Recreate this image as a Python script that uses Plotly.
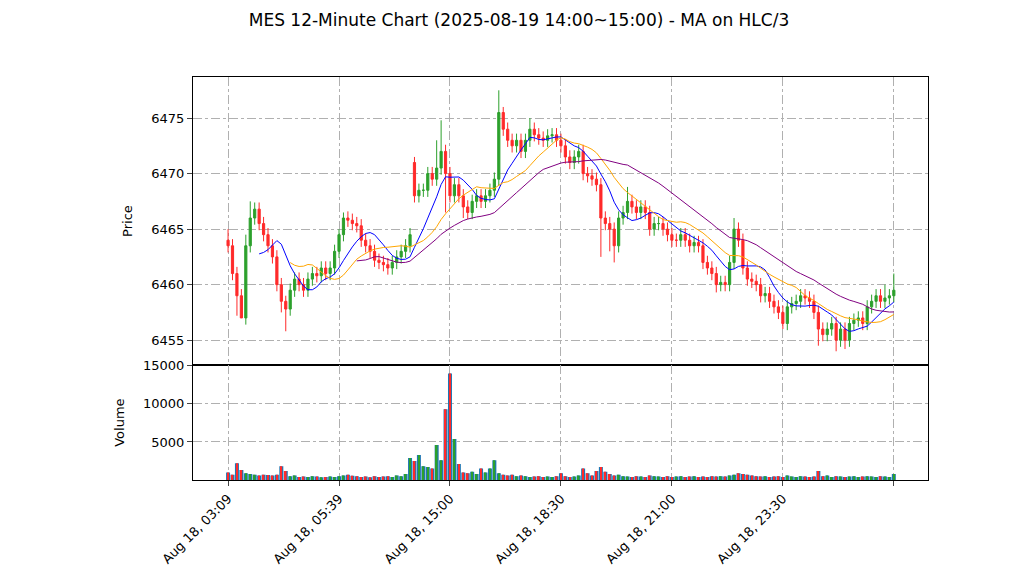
import numpy as np
import pandas as pd
import plotly.graph_objects as go

# closes per 12-min bar
closes = [6463.5, 6461, 6459, 6457, 6463.5, 6466, 6466.8, 6465.5, 6464.5, 6463.5,
          6462.5, 6460, 6458.5, 6457.8, 6459.5, 6460.5, 6460, 6459.5, 6460.5, 6461,
          6460.8, 6461.5, 6461, 6461.5, 6463, 6464.5, 6466, 6465.8, 6465.5, 6465.3,
          6464, 6463.5, 6463, 6462.2, 6462, 6461.8, 6461.5, 6462, 6462.5, 6463,
          6463.5, 6464.5, 6468, 6468.5, 6468.5, 6470, 6469.5, 6470.5, 6472, 6470,
          6468, 6469, 6468, 6467, 6466.5, 6467.5, 6468, 6467.5, 6468, 6468.5,
          6469.5, 6475.5, 6474, 6473, 6472.5, 6473, 6472, 6473, 6474, 6473.5,
          6473.2, 6473, 6473.4, 6473.5, 6473, 6472.5, 6471.5, 6471, 6471.5, 6472,
          6470, 6469.8, 6469.5, 6469, 6466, 6465.5, 6465, 6463.5, 6466, 6466.5,
          6467.5, 6467, 6466.5, 6467, 6466.5, 6465, 6465.5, 6465.5, 6465, 6464.5,
          6464, 6464, 6464.5, 6464, 6463.5, 6463.8, 6463.5, 6462, 6461.5, 6461,
          6460, 6460.2, 6460, 6462, 6465, 6464, 6461.5, 6460.5, 6460.3, 6460,
          6459, 6459.2, 6458.5, 6458, 6457.5, 6456.5, 6458, 6458.3, 6458.5, 6459,
          6458.8, 6458.5, 6457.5, 6456, 6455.5, 6456, 6456.5, 6455, 6456, 6455,
          6456.5, 6456.8, 6457, 6456.5, 6458, 6458.5, 6459, 6458.5, 6458.8, 6459,
          6459.5]
open_gaps = {0: 6464, 42: 6471, 41: 6463.5}
high_marks = {0: 6465, 4: 6464.5, 5: 6467.5, 13: 6459, 25: 6465, 26: 6466.5,
              42: 6471.5, 48: 6474.8, 47: 6473, 61: 6477.5, 62: 6476, 68: 6475,
              90: 6468.8, 114: 6466, 150: 6461, 148: 6460}
low_marks = {2: 6457.2, 3: 6457, 12: 6457.5, 13: 6455.8, 49: 6466.5, 53: 6466,
             84: 6462.5, 87: 6462, 86: 6463, 110: 6459.3, 125: 6456,
             133: 6454.5, 137: 6454, 139: 6454.2}
volumes = [1000, 700, 2200, 1300, 900, 800, 700, 600, 700, 650,
           600, 700, 1800, 1200, 500, 600, 400, 450, 400, 500,
           450, 350, 400, 450, 400, 500, 600, 700, 550, 500,
           400, 450, 350, 500, 400, 450, 500, 400, 600, 500,
           800, 2900, 2500, 3300, 1800, 1700, 1500, 4600, 2600, 9300,
           14000, 5400, 2100, 1000, 900, 1100, 800, 1500, 1000, 1500,
           2600, 900, 700, 600, 700, 500, 600, 500, 400, 450,
           500, 400, 450, 400, 500, 900, 500, 400, 450, 600,
           1500, 900, 600, 1200, 1700, 1100, 800, 600, 700, 500,
           450, 400, 500, 450, 400, 600, 500, 450, 400, 500,
           400, 450, 500, 400, 450, 500, 400, 450, 400, 500,
           450, 500, 450, 600, 700, 900, 800, 700, 600, 500,
           450, 500, 400, 450, 500, 400, 600, 450, 400, 500,
           450, 400, 450, 1200, 500, 600, 400, 500, 450, 400,
           450, 500, 400, 450, 500, 450, 400, 500, 450, 400,
           800]
tick_idx = [0, 25, 50, 75, 100, 125, 150]
tick_text = ["Aug 18, 03:09", "Aug 18, 05:39", "Aug 18, 15:00", "Aug 18, 18:30",
             "Aug 18, 21:00", "Aug 18, 23:30", ""]
vol_ticks = [5000, 10000, 15000]

n = len(closes)
x = np.arange(n)
opens = [open_gaps.get(i, closes[i - 1] if i > 0 else closes[0]) for i in range(n)]
highs = [high_marks.get(i, max(opens[i], closes[i]) + 0.6) for i in range(n)]
lows = [low_marks.get(i, min(opens[i], closes[i]) - 0.6) for i in range(n)]
df = pd.DataFrame(dict(o=opens, h=highs, l=lows, c=closes, v=volumes))
hlc3 = (df.h + df.l + df.c) / 3

fig = go.Figure()
fig.add_trace(go.Candlestick(
    x=x, open=df.o, high=df.h, low=df.l, close=df.c,
    increasing=dict(line=dict(color='#2ca02c', width=1), fillcolor='#2ca02c'),
    decreasing=dict(line=dict(color='#ff2a2a', width=1), fillcolor='#ff2a2a'),
    whiskerwidth=0, showlegend=False, xaxis='x', yaxis='y'))
for w, col in [(8, 'blue'), (15, 'orange'), (30, 'purple')]:
    fig.add_trace(go.Scatter(x=x, y=hlc3.rolling(w).mean(), mode='lines',
                             line=dict(color=col, width=1), showlegend=False,
                             xaxis='x', yaxis='y'))

bar_cols = ['#2ca02c' if c >= o else '#ff2a2a' for o, c in zip(df.o, df.c)]
fig.add_trace(go.Bar(x=x, y=df.v, marker=dict(color='#1f77b4', line_width=0),
                     width=0.9, showlegend=False, xaxis='x2', yaxis='y2'))
fig.add_trace(go.Bar(x=x, y=df.v, marker=dict(color=bar_cols, line_width=0),
                     width=0.35, showlegend=False, xaxis='x2', yaxis='y2'))

grid = dict(showgrid=True, gridcolor='#b0b0b0', griddash='dashdot', gridwidth=1,
            showline=True, linecolor='black', mirror=True, ticks='outside',
            zeroline=False, automargin=False, tickfont=dict(size=13, color='black'))
xr = [-7.9, 157.7]
fig.update_layout(
    width=1022, height=575, barmode='overlay',
    margin=dict(l=185, r=102, t=69, b=103),
    paper_bgcolor='white', plot_bgcolor='white',
    font=dict(family='DejaVu Sans', color='black'),
    title=dict(text='MES 12-Minute Chart (2025-08-19 14:00~15:00) - MA on HLC/3',
               x=0.5, y=0.99, xanchor='center', yanchor='top', font=dict(size=17)),
    xaxis=dict(grid, domain=[0, 1], range=xr, tickvals=tick_idx, ticktext=[""] * 7,
               anchor='y', rangeslider=dict(visible=False)),
    yaxis=dict(grid, domain=[0.285, 1], range=[6452.75, 6478.7], dtick=5,
               title=dict(text='Price', font=dict(size=13))),
    xaxis2=dict(grid, domain=[0, 1], range=xr, tickvals=tick_idx, ticktext=tick_text,
                tickangle=-45, anchor='y2'),
    yaxis2=dict(grid, domain=[0, 0.285], range=[0, 15100],
                tickvals=vol_ticks, ticktext=[str(t) for t in vol_ticks],
                title=dict(text='Volume', font=dict(size=13))),
)
fig.write_html("out.html")
